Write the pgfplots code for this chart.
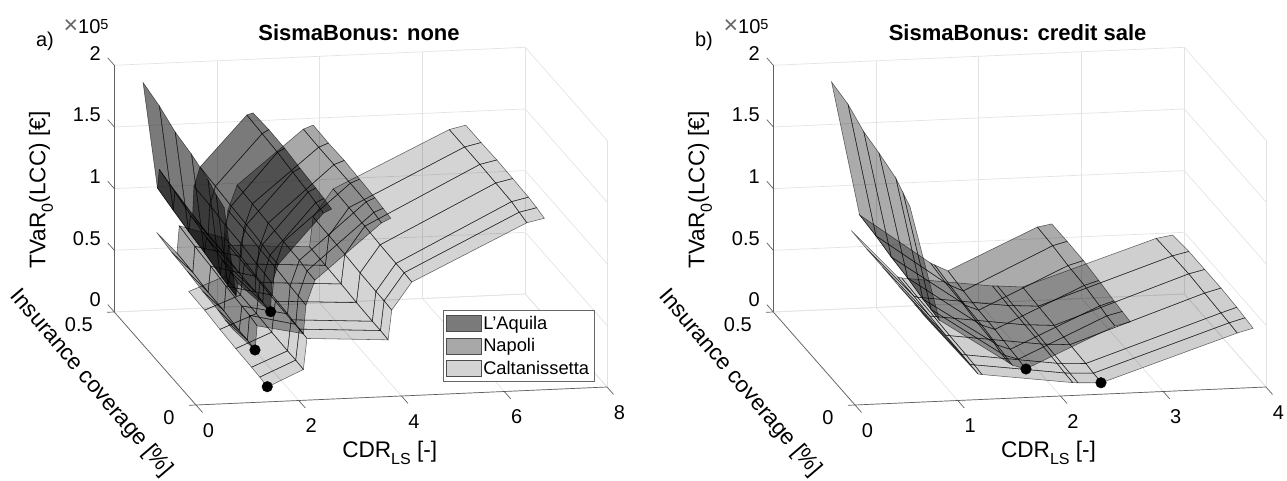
\documentclass[border=0pt]{standalone}
\usepackage{fontspec}
\setmainfont{Liberation Sans}
\usepackage{pgfplots}
\pgfplotsset{compat=1.18}
\usetikzlibrary{calc}
\newcommand{\subs}[1]{\raisebox{-0.33em}{\fontsize{16}{16}\selectfont #1}}
\newcommand{\lf}{\fontsize{22.6}{23}\selectfont}
\newcommand{\expo}{{\fontsize{25}{25}\selectfont\color{black!60}×}{\fontsize{20}{20}\selectfont 10}\raisebox{0.42em}{\fontsize{14.5}{15}\selectfont 5}}
\tikzset{ax/.style={black!62,line width=0.7pt}}
\pgfplotsset{
  colormap={blk}{color=(black) color=(black)},
  common/.style={
    clip=false,
    anchor=origin,
    ymin=0,ymax=0.5,zmin=0,zmax=2,
    y={(-163.4pt,186pt)},z={(0pt,123.35pt)},
    ytick={0,0.5},ztick={0,0.5,1,1.5,2},
    grid=major,
    grid style={black!11,line width=0.7pt},
    axis line style={draw=none},
    major tick length=0pt,
    tick style={draw=none},
    tick label style={font=\fontsize{20}{20}\selectfont,/pgf/number format/assume math mode=true},
    xticklabel style={anchor=center,xshift=12.5pt,yshift=-25.5pt},
    yticklabel style={anchor=east,xshift=-18pt,yshift=-13pt},
    zticklabel style={anchor=east,xshift=-10pt,yshift=12pt},
    scaled ticks=false,
    colormap name=blk,
    title style={font=\fontsize{22}{22}\selectfont\bfseries},
  },
  sf/.style={surf,shader=faceted,faceted color=black,fill opacity=#1,draw opacity=0.58,line width=0.55pt,forget plot},
  dots/.style={only marks,mark=*,mark size=5.3pt,mark options={black,fill=black,fill opacity=1,draw opacity=1},black,forget plot},
}
\begin{document}
\begin{tikzpicture}
\path[use as bounding box] (0,0) rectangle (1287pt,481pt);
\begin{axis}[common,
  at={(196pt,76pt)},
  x={(51.375pt,2.25pt)},
  xmin=0,xmax=8,xtick={0,2,4,6,8},
  title={SismaBonus: none},
  title style={at={($(axis cs:0,0,0)+(163pt,366pt)$)},anchor=center},
  xlabel={CDR\subs{LS} [-]},
  ylabel={Insurance coverage [\%]},
  zlabel={TVaR\subs{0}(LCC) [€]},
  every axis x label/.style={at={($(axis cs:0,0,0)+(193.7pt,-48pt)$)},anchor=center,font=\lf},
  every axis y label/.style={at={($(axis cs:0,0,0)+(-105pt,22pt)$)},anchor=center,rotate=-49.5,font=\lf},
  every axis z label/.style={at={($(axis cs:0,0,0)+(-155pt,215pt)$)},anchor=center,rotate=90,font=\lf},
  legend style={at={($(axis cs:0,0,0)+(246.7pt,94.5pt)$)},anchor=north west,draw=black!60,line width=0.7pt,
    font=\fontsize{18.3}{18.5}\selectfont,inner xsep=3pt,inner ysep=3.5pt,row sep=3.5pt,legend cell align=left},
]
% Caltanissetta
\addplot3[sf=0.17] table {
1.39 0 0.12
1.40 0.05 0.125
1.40 0.1 0.13
1.41 0.2 0.13
1.42 0.3 0.135
1.44 0.4 0.14
1.45 0.5 0.14

2.09 0 0.25
2.10 0.05 0.25
2.10 0.1 0.25
2.11 0.2 0.25
2.13 0.3 0.25
2.14 0.4 0.25
2.15 0.5 0.25

2.16 0 0.50
2.17 0.05 0.50
2.17 0.1 0.50
2.18 0.2 0.50
2.20 0.3 0.50
2.21 0.4 0.50
2.22 0.5 0.50

3.74 0 0.46
3.75 0.05 0.46
3.75 0.1 0.46
3.76 0.2 0.46
3.78 0.3 0.46
3.79 0.4 0.46
3.80 0.5 0.46

3.81 0 0.70
3.82 0.05 0.70
3.82 0.1 0.70
3.83 0.2 0.70
3.85 0.3 0.70
3.86 0.4 0.70
3.87 0.5 0.70

4.20 0 0.92
4.21 0.05 0.92
4.21 0.1 0.92
4.22 0.2 0.92
4.24 0.3 0.92
4.25 0.4 0.92
4.26 0.5 0.92

6.44 0 1.36
6.45 0.05 1.37
6.46 0.1 1.38
6.47 0.2 1.38
6.48 0.3 1.38
6.50 0.4 1.37
6.52 0.5 1.36

6.78 0 1.39
6.79 0.05 1.40
6.79 0.1 1.41
6.80 0.2 1.41
6.81 0.3 1.41
6.82 0.4 1.40
6.84 0.5 1.39
};
% Napoli
\addplot3[sf=0.34] table {
0.72 0 0.60
0.73 0.05 0.60
0.74 0.1 0.61
0.76 0.2 0.61
0.78 0.3 0.62
0.80 0.4 0.62
0.825 0.5 0.63

1.15 0 0.425
1.16 0.05 0.43
1.16 0.1 0.43
1.18 0.2 0.44
1.19 0.3 0.44
1.21 0.4 0.45
1.22 0.5 0.455

1.19 0 0.62
1.20 0.05 0.63
1.21 0.1 0.63
1.22 0.2 0.64
1.24 0.3 0.65
1.25 0.4 0.66
1.265 0.5 0.675

2.09 0 0.54
2.10 0.05 0.54
2.10 0.1 0.55
2.12 0.2 0.55
2.13 0.3 0.55
2.15 0.4 0.56
2.16 0.5 0.56

2.14 0 0.77
2.15 0.05 0.77
2.15 0.1 0.775
2.17 0.2 0.78
2.18 0.3 0.78
2.20 0.4 0.785
2.21 0.5 0.785

2.315 0 0.97
2.32 0.05 0.97
2.33 0.1 0.98
2.34 0.2 0.98
2.36 0.3 0.98
2.37 0.4 0.985
2.39 0.5 0.985

3.61 0 1.41
3.62 0.05 1.42
3.63 0.1 1.43
3.64 0.2 1.43
3.64 0.3 1.43
3.66 0.4 1.42
3.68 0.5 1.415

3.79 0 1.445
3.80 0.05 1.45
3.80 0.1 1.46
3.82 0.2 1.46
3.84 0.3 1.46
3.85 0.4 1.45
3.87 0.5 1.445
};
% L'Aquila
\addplot3[sf=0.52] table {
0.55 0 1.59
0.55 0.05 1.62
0.55 0.1 1.67
0.55 0.2 1.72
0.55 0.3 1.75
0.56 0.4 1.81
0.56 0.5 1.85

0.78 0 0.87
0.78 0.05 0.88
0.79 0.1 0.89
0.80 0.2 0.92
0.81 0.3 0.94
0.83 0.4 0.96
0.84 0.5 0.99

0.82 0 0.97
0.83 0.05 0.99
0.83 0.1 1.01
0.84 0.2 1.04
0.85 0.3 1.07
0.86 0.4 1.11
0.875 0.5 1.14

1.45 0 0.73
1.46 0.05 0.73
1.47 0.1 0.74
1.48 0.2 0.74
1.50 0.3 0.75
1.51 0.4 0.75
1.525 0.5 0.76

1.48 0 0.96
1.49 0.05 0.965
1.49 0.1 0.97
1.51 0.2 0.98
1.52 0.3 0.98
1.54 0.4 0.99
1.55 0.5 0.99

1.60 0 1.11
1.60 0.05 1.11
1.61 0.1 1.12
1.62 0.2 1.13
1.64 0.3 1.13
1.65 0.4 1.14
1.67 0.5 1.145

2.48 0 1.51
2.49 0.05 1.52
2.50 0.1 1.53
2.52 0.2 1.54
2.54 0.3 1.55
2.56 0.4 1.55
2.58 0.5 1.55

2.64 0 1.54
2.65 0.05 1.55
2.65 0.1 1.56
2.66 0.2 1.57
2.68 0.3 1.58
2.69 0.4 1.58
2.70 0.5 1.565
};
\addplot3[dots] coordinates {(1.453,0,0.73) (1.148,0,0.425) (1.387,0,0.123)};
\draw[ax] (axis cs:0,0,0)--(axis cs:8,0,0);
\draw[ax] (axis cs:0,0,0)--(axis cs:0,0.5,0);
\draw[ax] (axis cs:0,0.5,0)--(axis cs:0,0.5,2);
\pgfplotsinvokeforeach{0,2,4,6,8}{\draw[ax] (axis cs:#1,0,0)--(axis cs:#1,-0.04,0);}
\pgfplotsinvokeforeach{0,0.5}{\draw[ax] (axis cs:0,#1,0)--(axis cs:-0.14,#1,0);}
\pgfplotsinvokeforeach{0,0.5,1,1.5,2}{\draw[ax] (axis cs:0,0.5,#1)--(axis cs:0,0.54,#1);}
\addlegendimage{legend image code/.code={\draw[draw=black!70,line width=0.7pt,fill=black!52] (0.5pt,-8pt) rectangle (35pt,8pt);}}
\addlegendentry{L'Aquila}
\addlegendimage{legend image code/.code={\draw[draw=black!70,line width=0.7pt,fill=black!34] (0.5pt,-8pt) rectangle (35pt,8pt);}}
\addlegendentry{Napoli}
\addlegendimage{legend image code/.code={\draw[draw=black!70,line width=0.7pt,fill=black!17] (0.5pt,-8pt) rectangle (35pt,8pt);}}
\addlegendentry{Caltanissetta}
\node[font=\fontsize{20}{20}\selectfont] at ($(axis cs:0,0,0)+(-151pt,364pt)$) {a)};
\node at ($(axis cs:0,0,0)+(-110pt,378pt)$) {\expo};
\end{axis}
\begin{axis}[common,
  at={(855pt,76pt)},
  x={(102.75pt,4.5pt)},
  xmin=0,xmax=4,xtick={0,1,2,3,4},
  title={SismaBonus: credit sale},
  title style={at={($(axis cs:0,0,0)+(162.6pt,366pt)$)},anchor=center},
  xlabel={CDR\subs{LS} [-]},
  ylabel={Insurance coverage [\%]},
  zlabel={TVaR\subs{0}(LCC) [€]},
  every axis x label/.style={at={($(axis cs:0,0,0)+(193.5pt,-48pt)$)},anchor=center,font=\lf},
  every axis y label/.style={at={($(axis cs:0,0,0)+(-115.4pt,22pt)$)},anchor=center,rotate=-49.5,font=\lf},
  every axis z label/.style={at={($(axis cs:0,0,0)+(-155pt,215pt)$)},anchor=center,rotate=90,font=\lf},
]
\addplot3[sf=0.19] table {
0.73 0 0.646
0.73 0.05 0.645
0.735 0.1 0.645
0.74 0.2 0.64
0.745 0.3 0.64
0.75 0.4 0.635
0.76 0.5 0.632

1.197 0 0.208
1.20 0.05 0.21
1.20 0.1 0.215
1.20 0.2 0.22
1.205 0.3 0.225
1.21 0.4 0.235
1.21 0.5 0.24

1.236 0 0.202
1.24 0.05 0.205
1.24 0.1 0.21
1.24 0.2 0.215
1.245 0.3 0.22
1.245 0.4 0.225
1.25 0.5 0.23

2.12 0 0.104
2.12 0.05 0.107
2.125 0.1 0.11
2.13 0.2 0.115
2.13 0.3 0.12
2.13 0.4 0.125
2.134 0.5 0.133

2.17 0 0.101
2.17 0.05 0.104
2.17 0.1 0.107
2.175 0.2 0.112
2.18 0.3 0.118
2.18 0.4 0.123
2.183 0.5 0.131

2.40 0 0.093
2.40 0.05 0.095
2.405 0.1 0.098
2.41 0.2 0.10
2.415 0.3 0.105
2.42 0.4 0.11
2.426 0.5 0.114

3.72 0 0.448
3.72 0.05 0.455
3.72 0.1 0.46
3.72 0.2 0.47
3.725 0.3 0.475
3.725 0.4 0.47
3.726 0.5 0.461

3.874 0 0.481
3.875 0.05 0.49
3.875 0.1 0.50
3.88 0.2 0.505
3.88 0.3 0.505
3.885 0.4 0.50
3.886 0.5 0.482
};
\addplot3[sf=0.33] table {
0.535 0 1.588
0.549 0.05 1.621
0.557 0.1 1.667
0.553 0.2 1.719
0.562 0.3 1.743
0.568 0.4 1.814
0.567 0.5 1.844

0.82 0 0.659
0.82 0.05 0.669
0.82 0.1 0.678
0.83 0.2 0.698
0.83 0.3 0.717
0.84 0.4 0.737
0.84 0.5 0.756

1.50 0 0.286
1.50 0.05 0.29
1.51 0.1 0.30
1.51 0.2 0.31
1.52 0.3 0.32
1.52 0.4 0.33
1.53 0.5 0.341

1.53 0 0.268
1.54 0.05 0.27
1.54 0.1 0.28
1.55 0.2 0.29
1.55 0.3 0.30
1.56 0.4 0.31
1.57 0.5 0.324

1.66 0 0.231
1.67 0.05 0.235
1.67 0.1 0.24
1.68 0.2 0.25
1.68 0.3 0.255
1.69 0.4 0.26
1.70 0.5 0.271

2.53 0 0.548
2.53 0.05 0.555
2.54 0.1 0.56
2.55 0.2 0.575
2.55 0.3 0.585
2.56 0.4 0.595
2.57 0.5 0.595

2.68 0 0.576
2.68 0.05 0.585
2.68 0.1 0.595
2.69 0.2 0.61
2.70 0.3 0.62
2.70 0.4 0.625
2.71 0.5 0.615
};
\addplot3[dots] coordinates {(1.664,0,0.231) (2.394,0,0.093)};
\draw[ax] (axis cs:0,0,0)--(axis cs:4,0,0);
\draw[ax] (axis cs:0,0,0)--(axis cs:0,0.5,0);
\draw[ax] (axis cs:0,0.5,0)--(axis cs:0,0.5,2);
\pgfplotsinvokeforeach{0,1,2,3,4}{\draw[ax] (axis cs:#1,0,0)--(axis cs:#1,-0.04,0);}
\pgfplotsinvokeforeach{0,0.5}{\draw[ax] (axis cs:0,#1,0)--(axis cs:-0.07,#1,0);}
\pgfplotsinvokeforeach{0,0.5,1,1.5,2}{\draw[ax] (axis cs:0,0.5,#1)--(axis cs:0,0.54,#1);}
\node[font=\fontsize{20}{20}\selectfont] at ($(axis cs:0,0,0)+(-151pt,364pt)$) {b)};
\node at ($(axis cs:0,0,0)+(-109pt,378pt)$) {\expo};
\end{axis}
\end{tikzpicture}
\end{document}
